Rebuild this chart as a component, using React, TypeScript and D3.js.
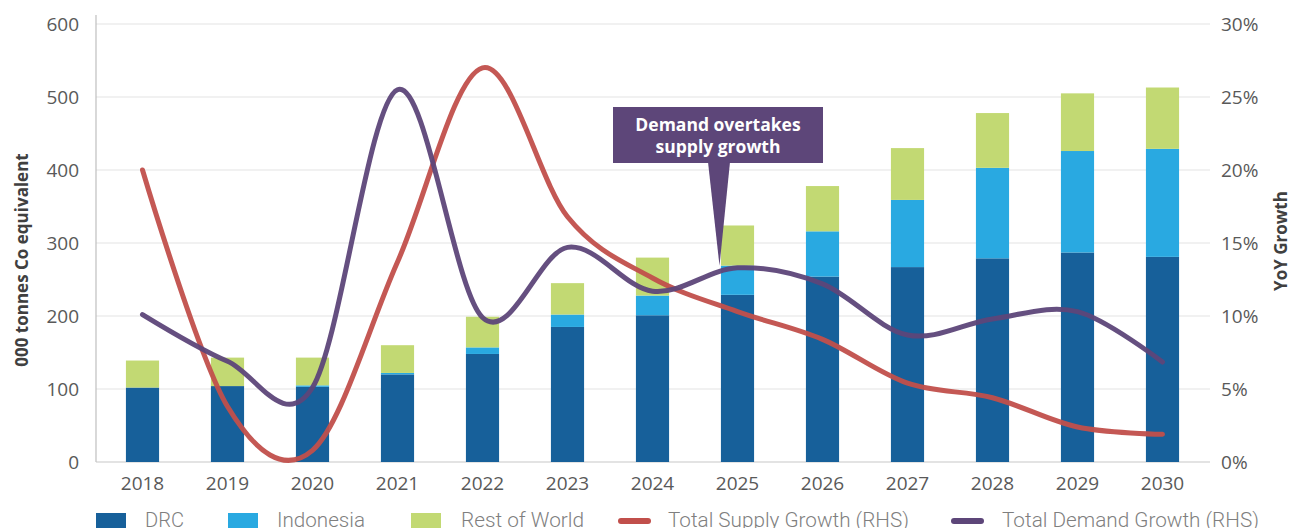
import * as d3 from "d3";

const years = ["2018", "2019", "2020", "2021", "2022", "2023", "2024", "2025", "2026", "2027", "2028", "2029", "2030"];
const drc = [102, 104, 103, 120, 148, 185, 201, 229, 254, 267, 279, 287, 281];
const indonesia = [0, 0, 2, 2, 9, 17, 27, 40, 62, 92, 124, 139, 148];
const restOfWorld = [37, 39, 38, 38, 42, 43, 52, 55, 62, 71, 75, 79, 84];
const supplyGrowth = [20.0, 3.8, 0.8, 13.7, 27.0, 16.8, 12.6, 10.3, 8.4, 5.4, 4.4, 2.4, 1.9];
const demandGrowth = [10.1, 6.9, 5.1, 25.5, 9.9, 14.7, 11.7, 13.3, 12.2, 8.7, 9.8, 10.3, 6.85];
const leftTicks = [0, 100, 200, 300, 400, 500, 600];
const rightTicks = [0, 5, 10, 15, 20, 25, 30];

const colors = {
  drc: "#17609a",
  indonesia: "#29a9e1",
  row: "#c2d973",
  supply: "#c14f4b",
  demand: "#5d4679",
};

export default function App() {
  const width = 1293;
  const height = 528;
  const left = 96;
  const right = 1210;
  const top = 24;
  const bottom = 462;
  const font = "'Open Sans', sans-serif";

  const x = d3.scaleBand<string>().domain(years).range([100, 1205]).paddingInner(0.61).paddingOuter(0.305);
  const y = d3.scaleLinear().domain([0, 600]).range([bottom, top]);
  const y2 = d3.scaleLinear().domain([0, 30]).range([bottom, top]);

  const stack = years.map((yr, i) => {
    const a = drc[i];
    const b = a + indonesia[i];
    const c = b + restOfWorld[i];
    return { yr, segs: [[0, a, colors.drc], [a, b, colors.indonesia], [b, c, colors.row]] as [number, number, string][] };
  });

  const cx = (i: number) => (x(years[i]) as number) + x.bandwidth() / 2;
  const line = d3.line<number>().x((_, i) => cx(i)).y((d) => y2(d)).curve(d3.curveCardinal.tension(0));

  // legend positions taken from the reference layout
  const legend = [
    { type: "rect", color: colors.drc, label: "DRC", sx: 96, tx: 145, w: 39 },
    { type: "rect", color: colors.indonesia, label: "Indonesia", sx: 228, tx: 277, w: 88 },
    { type: "rect", color: colors.row, label: "Rest of World", sx: 411, tx: 461, w: 123 },
    { type: "line", color: colors.supply, label: "Total Supply Growth (RHS)", sx: 621, tx: 668, w: 241 },
    { type: "line", color: colors.demand, label: "Total Demand Growth (RHS)", sx: 954, tx: 1002, w: 257 },
  ];

  const tipX = cx(7) - 18;
  const tipY = y2(13.3) - 2;

  return (
    <svg width={width} height={height} style={{ position: "absolute", left: 0, top: 0, background: "#fff" }}>
      {leftTicks.map((t) => (
        <g key={t}>
          {t > 0 && <line x1={left} x2={right} y1={y(t)} y2={y(t)} stroke="#e4e4e4" strokeWidth={1.2} />}
          <text x={79} y={y(t)} dy="0.36em" textAnchor="end" fontFamily={font} fontSize={19} fill="#595959">{t}</text>
        </g>
      ))}
      {rightTicks.map((t) => (
        <text key={t} x={1221} y={y2(t)} dy="0.36em" fontFamily={font} fontSize={19} fill="#595959">{t}%</text>
      ))}
      <line x1={left} x2={left} y1={15} y2={bottom} stroke="#bfbfbf" strokeWidth={1.2} />
      <line x1={left} x2={right} y1={bottom} y2={bottom} stroke="#c8c8c8" strokeWidth={1.2} />

      {stack.map((s) => (
        <g key={s.yr}>
          {s.segs.filter((g) => g[1] > g[0]).map((g, j) => (
            <rect key={j} x={x(s.yr)} width={x.bandwidth()} y={y(g[1])} height={y(g[0]) - y(g[1])} fill={g[2]} />
          ))}
        </g>
      ))}

      <path d={line(supplyGrowth) as string} fill="none" stroke={colors.supply} strokeOpacity={0.95} strokeWidth={5} strokeLinecap="round" />
      <path d={line(demandGrowth) as string} fill="none" stroke={colors.demand} strokeOpacity={0.95} strokeWidth={5} strokeLinecap="round" />

      {years.map((yr) => (
        <text key={yr} x={(x(yr) as number) + x.bandwidth() / 2} y={483} dy="0.36em" textAnchor="middle" fontFamily={font} fontSize={19} fill="#595959">{yr}</text>
      ))}

      <text transform={`translate(28,${(top + bottom) / 2 + 17}) rotate(-90)`} textAnchor="middle" fontFamily={font} fontSize={17} fontWeight={700} fill="#404040">000 tonnes Co equivalent</text>
      <text transform={`translate(1287,241) rotate(-90)`} textAnchor="middle" fontFamily={font} fontSize={17} fontWeight={700} fill="#404040">YoY Growth</text>

      <rect x={613} y={107} width={210} height={56} fill={colors.demand} />
      <path d={`M708,162 L730,162 L${tipX},${tipY} Z`} fill={colors.demand} />
      <text x={718} y={131} textAnchor="middle" fontFamily={font} fontSize={17.5} fontWeight={700} fill="#fff">Demand overtakes</text>
      <text x={718} y={153} textAnchor="middle" fontFamily={font} fontSize={17.5} fontWeight={700} fill="#fff">supply growth</text>

      {legend.map((l) => (
        <g key={l.label}>
          {l.type === "rect"
            ? <rect x={l.sx} y={513} width={30} height={18} fill={l.color} />
            : <line x1={l.sx} x2={l.sx + 27} y1={521} y2={521} stroke={l.color} strokeWidth={6} strokeLinecap="round" />}
          <text x={l.tx} y={527} fontFamily="Roboto, sans-serif" fontWeight={300} fontSize={20} fill="#7f7f7f" textLength={l.w} lengthAdjust="spacingAndGlyphs">{l.label}</text>
        </g>
      ))}
    </svg>
  );
}
